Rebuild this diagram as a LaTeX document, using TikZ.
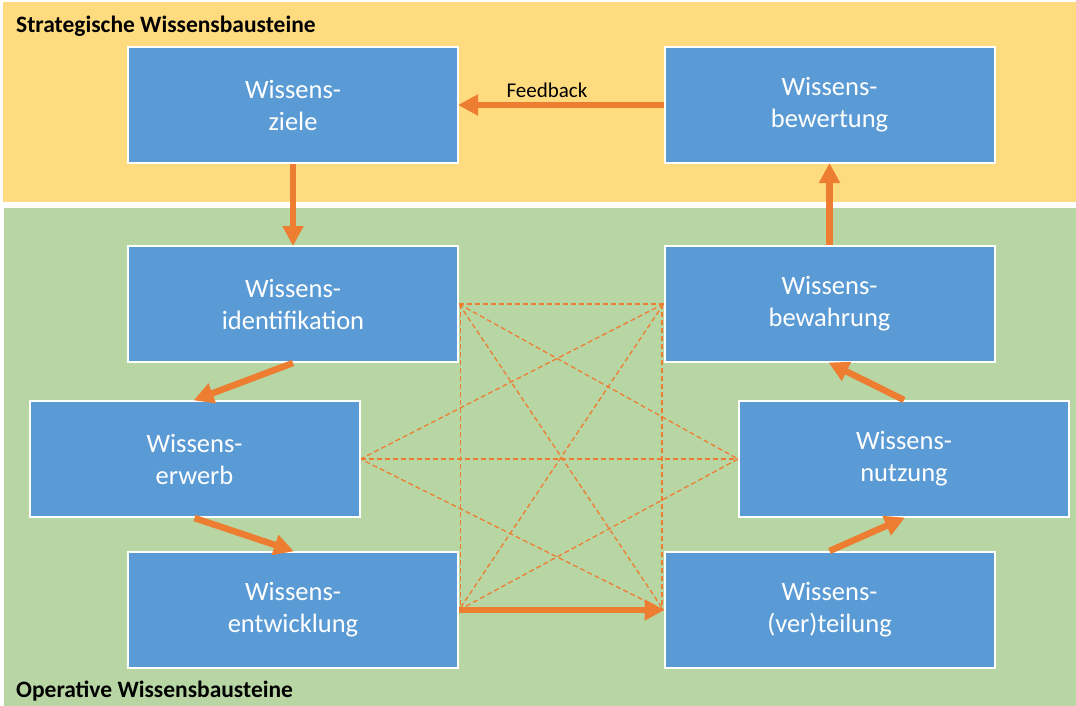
\documentclass[tikz,border=0pt]{standalone}
\usepackage{fontspec}
\setmainfont{Carlito}
\usetikzlibrary{arrows.meta}
\definecolor{ybg}{HTML}{FFDB80}
\definecolor{gbg}{HTML}{B8D6A4}
\definecolor{bbox}{HTML}{5B9BD5}
\definecolor{orn}{HTML}{ED7D31}
\pgfdeclarelayer{back}
\pgfdeclarelayer{mid}
\pgfsetlayers{back,mid,main}
\tikzset{
  wbox/.style={rectangle, fill=bbox, draw=white, line width=2pt, minimum width=330pt, minimum height=116pt, inner sep=0pt, align=center, text=white, font=\fontsize{26.5}{32}\selectfont},
  flow/.style={orn, line width=6.5pt, -{Triangle[length=20pt,width=20pt]}, shorten >=-1pt},
  link/.style={orn, line width=1.3pt, dash pattern=on 5pt off 3pt},
  title/.style={anchor=base west, inner sep=0pt, font=\fontsize{23.5}{28}\selectfont\bfseries}
}
\begin{document}
\begin{tikzpicture}[x=1pt,y=-1pt]
\useasboundingbox (0,0) rectangle (1076,706);
\begin{pgfonlayer}{back}
  \fill[white] (0,0) rectangle (1076,706);
  \fill[ybg] (3,2) rectangle (1076,202);
  \fill[gbg] (4,208) rectangle (1076,706);
\end{pgfonlayer}
\node[title] (t1) at (16,33) {Strategische Wissensbausteine};
\node[title] (t2) at (16,697) {Operative Wissensbausteine};

\node[wbox] (ziele) at (293,105) {Wissens-\\ziele};
\node[wbox] (bewert) at (829.5,105) {Wissens-\\bewertung};
\node[wbox] (ident) at (293,304) {Wissens-\\identifikation};
\node[wbox] (bewahr) at (829.5,304) {Wissens-\\bewahrung};
\node[wbox] (erwerb) at (194.5,459) {Wissens-\\erwerb};
\node[wbox] (nutz) at (904,459) {Wissens-\\nutzung};
\node[wbox] (entw) at (293,610) {Wissens-\\entwicklung};
\node[wbox] (vert) at (829.5,610) {Wissens-\\(ver)teilung};

\begin{pgfonlayer}{mid}
  \draw[link] (ident.east) -- (bewahr.west);
  \draw[link] (erwerb.east) -- (nutz.west);
  \draw[link] ([xshift=1.5pt]ident.east) -- ([xshift=1.5pt]entw.east);
  \draw[link] ([xshift=-1.5pt]bewahr.west) -- ([xshift=-1.5pt]vert.west);
  \draw[link] (ident.east) -- (vert.west);
  \draw[link] (bewahr.west) -- (entw.east);
  \draw[link] (ident.east) -- (nutz.west);
  \draw[link] (bewahr.west) -- (erwerb.east);
  \draw[link] (entw.east) -- (nutz.west);
  \draw[link] (vert.west) -- (erwerb.east);
\end{pgfonlayer}

\draw[flow] (bewert.west) -- node[above=1pt, pos=0.57, text=black, font=\fontsize{21}{25}\selectfont] (fb) {Feedback} (ziele.east);
\draw[flow] (ziele.south) -- (ident.north);
\draw[flow] (ident.south) -- (erwerb.north);
\draw[flow] (erwerb.south) -- (entw.north);
\draw[flow] (entw.east) -- (vert.west);
\draw[flow] (vert.north) -- (nutz.south);
\draw[flow] (nutz.north) -- (bewahr.south);
\draw[flow] (bewahr.north) -- (bewert.south);
\end{tikzpicture}
\end{document}
